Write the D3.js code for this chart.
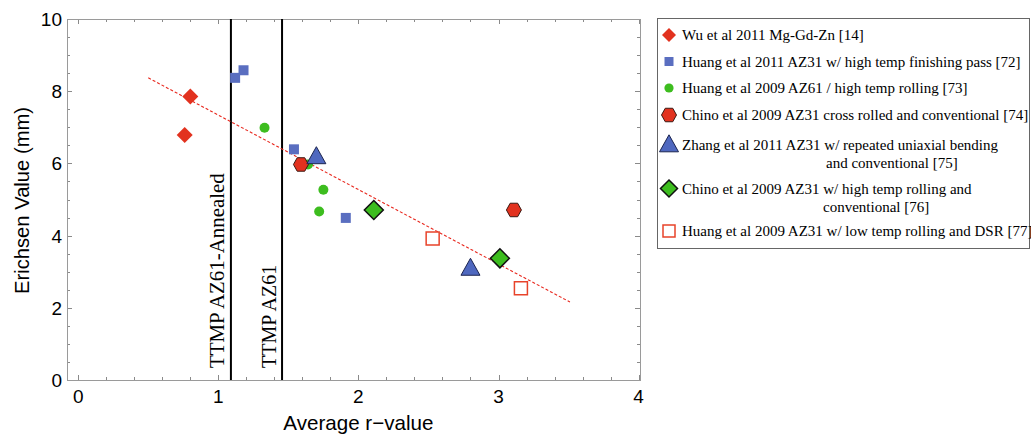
<!DOCTYPE html>
<html>
<head>
<meta charset="utf-8">
<script src="https://cdn.jsdelivr.net/npm/d3@7"></script>
<style>
  body { margin: 0; background: #fff; }
  svg { display: block; }
</style>
</head>
<body>
<div id="chart"></div>
<script>
// series: [r-value, Erichsen]
const wuMgGdZn = [[0.76, 6.79], [0.80, 7.85]];
const huang2011AZ31 = [[1.12, 8.37], [1.18, 8.58], [1.54, 6.39], [1.91, 4.49]];
const huang2009AZ61 = [[1.33, 6.99], [1.64, 5.97], [1.75, 5.27], [1.72, 4.67]];
const chinoCross = [[1.59, 5.97], [3.11, 4.71]];
const zhangBending = [[1.70, 6.18], [2.80, 3.09]];
const chinoHighTemp = [[2.11, 4.71], [3.01, 3.37]];
const huangDSR = [[2.53, 3.92], [3.16, 2.54]];

const fitLine = [[0.50, 8.37], [3.51, 2.16]];
const refLines = [
  { x: 1.09, label: "TTMP AZ61-Annealed", size: 20.9 },
  { x: 1.455, label: "TTMP AZ61", size: 20 }
];

const xTicks = [0, 1, 2, 3, 4];
const yTicks = [0, 2, 4, 6, 8, 10];

const legendLabels = [
  ["Wu et al 2011 Mg-Gd-Zn [14]"],
  ["Huang et al 2011 AZ31 w/ high temp finishing pass [72]"],
  ["Huang et al 2009 AZ61 / high temp rolling [73]"],
  ["Chino et al 2009 AZ31 cross rolled and conventional [74]"],
  ["Zhang et al 2011 AZ31 w/ repeated uniaxial bending", "and conventional [75]"],
  ["Chino et al 2009 AZ31 w/ high temp rolling and", "conventional [76]"],
  ["Huang et al 2009 AZ31 w/ low temp rolling and DSR [77]"]
];

const width = 1031, height = 437;
const margin = { top: 19, left: 67, right: 391, bottom: 57 };

const svg = d3.select("#chart").append("svg")
  .attr("width", width)
  .attr("height", height);

const x = d3.scaleLinear().domain([-0.08, 4.01]).range([margin.left, width - margin.right]);
const y = d3.scaleLinear().domain([0, 10]).range([height - margin.bottom, margin.top]);

const x0 = x.range()[0], x1 = x.range()[1];
const yTop = y.range()[1], yBot = y.range()[0];

// ticks on all four sides, pointing inward
const ticksG = svg.append("g").attr("stroke", "#8a8a8a").attr("stroke-width", 1);
d3.range(0, 4.01, 0.2).forEach(v => {
  const major = Math.abs(v - Math.round(v)) < 1e-6;
  const len = major ? 5 : 3;
  const px = Math.round(x(v)) + 0.5;
  ticksG.append("line").attr("x1", px).attr("x2", px).attr("y1", yBot).attr("y2", yBot - len);
  ticksG.append("line").attr("x1", px).attr("x2", px).attr("y1", yTop).attr("y2", yTop + len);
});
d3.range(0, 10.01, 0.5).forEach(v => {
  const major = Math.abs(v / 2 - Math.round(v / 2)) < 1e-6;
  const len = major ? 5 : 3;
  const py = Math.round(y(v)) + 0.5;
  ticksG.append("line").attr("x1", x0).attr("x2", x0 + len).attr("y1", py).attr("y2", py);
  ticksG.append("line").attr("x1", x1).attr("x2", x1 - len).attr("y1", py).attr("y2", py);
});

svg.append("rect")
  .attr("x", x0 + 0.5).attr("y", yTop + 0.5)
  .attr("width", x1 - x0).attr("height", yBot - yTop)
  .attr("fill", "none").attr("stroke", "#9a9a9a").attr("stroke-width", 1);

// tick labels
svg.append("g").selectAll("text").data(xTicks).join("text")
  .attr("x", d => x(d)).attr("y", 403)
  .attr("text-anchor", "middle")
  .attr("font-family", "Liberation Sans, Arial, sans-serif")
  .attr("font-size", 19)
  .text(d => d);

svg.append("g").selectAll("text").data(yTicks).join("text")
  .attr("x", 62).attr("y", d => y(d) + 7)
  .attr("text-anchor", "end")
  .attr("font-family", "Liberation Sans, Arial, sans-serif")
  .attr("font-size", 19)
  .text(d => d);

// axis titles
svg.append("text")
  .attr("x", x(2)).attr("y", 430)
  .attr("text-anchor", "middle")
  .attr("font-family", "Liberation Sans, Arial, sans-serif")
  .attr("font-size", 20.6)
  .text("Average r\u2212value");

svg.append("text")
  .attr("transform", `translate(29, ${(yTop + yBot) / 2 + 1}) rotate(-90)`)
  .attr("text-anchor", "middle")
  .attr("font-family", "Liberation Sans, Arial, sans-serif")
  .attr("font-size", 20.2)
  .text("Erichsen Value (mm)");

// reference lines
refLines.forEach(r => {
  svg.append("line")
    .attr("x1", x(r.x)).attr("x2", x(r.x))
    .attr("y1", yTop).attr("y2", yBot)
    .attr("stroke", "#000").attr("stroke-width", 2);
  svg.append("text")
    .attr("transform", `translate(${x(r.x) - 6.5}, 368) rotate(-90)`)
    .attr("font-family", "Liberation Serif, Times New Roman, serif")
    .attr("font-size", r.size)
    .text(r.label);
});

// fit line
svg.append("path")
  .datum(fitLine)
  .attr("d", d3.line().x(d => x(d[0])).y(d => y(d[1])))
  .attr("fill", "none")
  .attr("stroke", "#e8281e")
  .attr("stroke-width", 1.1)
  .attr("stroke-dasharray", "3,2");

// marker shapes
function diamond(s) { const h = s / 2; return `M0,${-h}L${h},0L0,${h}L${-h},0Z`; }
function square(s) { const h = s / 2; return `M${-h},${-h}H${h}V${h}H${-h}Z`; }
function hexagon(w, hgt) {
  const a = w / 2, q = w / 4, b = hgt / 2;
  return `M${-a},0L${-q},${-b}L${q},${-b}L${a},0L${q},${b}L${-q},${b}Z`;
}
function triangle(w, hgt) {
  return `M0,${-hgt * 0.6}L${w / 2},${hgt * 0.4}L${-w / 2},${hgt * 0.4}Z`;
}

const series = [
  { data: wuMgGdZn, path: diamond(16), legendPath: diamond(14), fill: "#e2321f", stroke: "none", sw: 0 },
  { data: huang2011AZ31, path: square(10), legendPath: square(9), fill: "#5a6ec0", stroke: "none", sw: 0 },
  { data: huang2009AZ61, circle: 5, legendCircle: 4.6, fill: "#3dbd1f", stroke: "none", sw: 0 },
  { data: chinoCross, path: hexagon(15, 13.5), legendPath: hexagon(15, 13.5), fill: "#e2321f", stroke: "#3a1a14", sw: 1 },
  { data: zhangBending, path: triangle(19, 17), legendPath: triangle(19, 17), fill: "#4f68bf", stroke: "#1c2550", sw: 1 },
  { data: chinoHighTemp, path: diamond(19), legendPath: diamond(17), fill: "#3dbd1f", stroke: "#111", sw: 1.5 },
  { data: huangDSR, path: square(13), legendPath: square(12), fill: "#fff", stroke: "#e8432a", sw: 1.5 }
];

function drawMarker(g, s, legend) {
  if (s.circle) {
    g.append("circle").attr("r", legend ? s.legendCircle : s.circle).attr("fill", s.fill);
  } else {
    g.append("path")
      .attr("d", legend ? s.legendPath : s.path)
      .attr("fill", s.fill)
      .attr("stroke", s.stroke)
      .attr("stroke-width", s.sw);
  }
}

const pts = svg.append("g");
series.forEach(s => {
  s.data.forEach(d => {
    const g = pts.append("g").attr("transform", `translate(${x(d[0])},${y(d[1])})`);
    drawMarker(g, s, false);
  });
});

// legend
const legend = svg.append("g");
legend.append("rect")
  .attr("x", 657.5).attr("y", 18.5)
  .attr("width", 372).attr("height", 230)
  .attr("fill", "#fff").attr("stroke", "#666").attr("stroke-width", 1);

const rowY = [35, 61.5, 88, 115, 145, 188.5, 231];
series.forEach((s, i) => {
  const g = legend.append("g").attr("transform", `translate(669,${rowY[i]})`);
  drawMarker(g, s, true);
  legendLabels[i].forEach((t, j) => {
    legend.append("text")
      .attr("x", j === 0 ? 682 : (i === 4 ? 826 : 823))
      .attr("y", rowY[i] + 5 + j * 18)
      .attr("font-family", "Liberation Serif, Times New Roman, serif")
      .attr("font-size", 15)
      .text(t);
  });
});
</script>
</body>
</html>
